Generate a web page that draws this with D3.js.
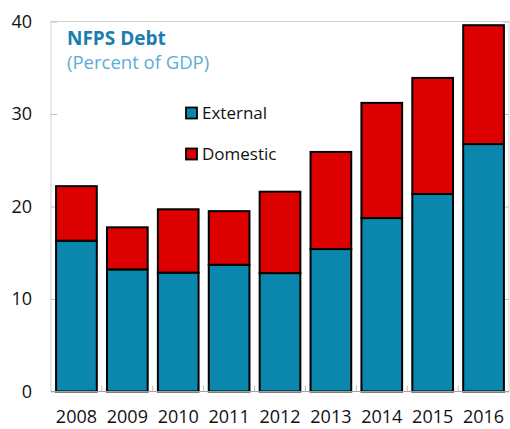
<!DOCTYPE html>
<html><head><meta charset="utf-8">
<script src="https://cdn.jsdelivr.net/npm/d3@7"></script>
<style>body{margin:0;background:#fff}svg{display:block}</style>
</head><body>
<script>
const years = ["2008","2009","2010","2011","2012","2013","2014","2015","2016"];
const external = [16.3, 13.2, 12.85, 13.7, 12.8, 15.4, 18.75, 21.35, 26.75];
const domestic = [5.9, 4.55, 6.85, 5.8, 8.8, 10.5, 12.45, 12.55, 12.85];
const yTicks = [0, 10, 20, 30, 40];
const seriesNames = ["External", "Domestic"];
const colors = ["#0b86ad", "#dd0000"];

const W = 510, H = 429;
const m = {left: 51, right: 1, top: 21.5, bottom: 37.5};
const svg = d3.select("body").append("svg").attr("width", W).attr("height", H);
const font = "'Open Sans', 'Noto Sans', sans-serif";

const x = d3.scaleBand().domain(years).range([m.left, W - m.right]).paddingInner(0.2).paddingOuter(0.1);
const y = d3.scaleLinear().domain([0, 40]).range([H - m.bottom, m.top]);

// frame
svg.append("rect").attr("x", m.left).attr("y", m.top).attr("width", W - m.right - m.left).attr("height", H - m.bottom - m.top)
  .attr("fill", "none").attr("stroke", "#d4d4d4").attr("stroke-width", 1);

// y ticks left and right (inward)
const yAxisL = d3.axisLeft(y).tickValues(yTicks).tickSize(-6).tickPadding(19);
const gL = svg.append("g").attr("transform", `translate(${m.left},0)`).call(yAxisL);
gL.select(".domain").remove();
gL.selectAll("line").attr("stroke", "#bdbdbd");
gL.selectAll("text").attr("font-family", font).attr("font-size", 18).attr("fill", "#111");

const yAxisR = d3.axisRight(y).tickValues(yTicks).tickSize(-6).tickFormat("");
const gR = svg.append("g").attr("transform", `translate(${W - m.right},0)`).call(yAxisR);
gR.select(".domain").remove();
gR.selectAll("line").attr("stroke", "#bdbdbd");

// stacked bars
const stackData = years.map((yr, i) => ({year: yr, External: external[i], Domestic: domestic[i]}));
const stack = d3.stack().keys(seriesNames)(stackData);
svg.append("g").selectAll("g").data(stack).join("g")
  .attr("fill", (d, i) => colors[i])
  .selectAll("rect").data(d => d).join("rect")
  .attr("x", d => x(d.data.year))
  .attr("width", x.bandwidth())
  .attr("y", d => y(d[1]))
  .attr("height", d => y(d[0]) - y(d[1]))
  .attr("stroke", "#000").attr("stroke-width", 2);

// x axis
const boundaries = years.slice(1).map(yv => x(yv) - x.step() * x.paddingInner() / 2);
const gx = svg.append("g");
gx.append("line").attr("x1", m.left).attr("x2", W - m.right).attr("y1", y(0)).attr("y2", y(0)).attr("stroke", "#a0a0a0").attr("stroke-width", 1.2);
gx.selectAll("line.tk").data(boundaries).join("line").attr("class", "tk")
  .attr("x1", d => d).attr("x2", d => d).attr("y1", y(0)).attr("y2", y(0) - 6).attr("stroke", "#bdbdbd");
const xAxis = d3.axisBottom(x).tickSize(0).tickPadding(19);
const gxa = svg.append("g").attr("transform", `translate(0,${y(0)})`).call(xAxis);
gxa.select(".domain").remove();
gxa.selectAll("text").attr("font-family", font).attr("font-size", 18).attr("fill", "#111");

// title
svg.append("text").attr("x", 67).attr("y", 45).attr("font-family", font).attr("font-weight", "bold")
  .attr("font-size", 19).attr("fill", "#1a7db0").text("NFPS Debt");
svg.append("text").attr("x", 67).attr("y", 69).attr("font-family", font)
  .attr("font-size", 18.5).attr("fill", "#5aaed6").text("(Percent of GDP)");

// legend
const leg = svg.append("g");
seriesNames.forEach((s, i) => {
  const ly = 113 + i * 41;
  leg.append("rect").attr("x", 186).attr("y", ly - 5.5).attr("width", 11).attr("height", 11)
    .attr("fill", colors[i]).attr("stroke", "#000").attr("stroke-width", 1.8);
  leg.append("text").attr("x", 202).attr("y", ly).attr("dy", "0.35em").attr("font-family", font)
    .attr("font-size", 17).attr("fill", "#111").text(s);
});
</script>
</body></html>
